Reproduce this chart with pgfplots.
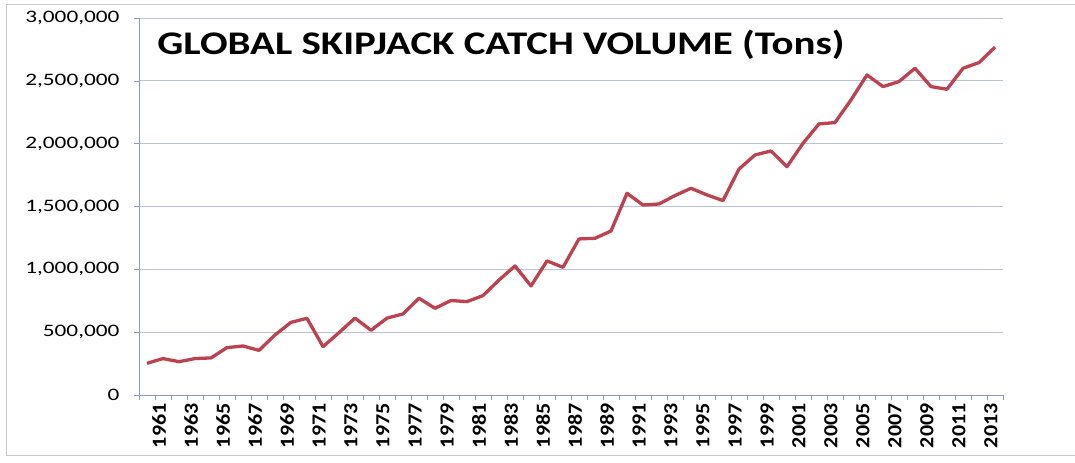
\documentclass[border=0pt]{standalone}
\usepackage{pgfplots}
\pgfplotsset{compat=1.18}
\usepackage{fontspec}
\setmainfont{Carlito}
\newfontfamily\ylabfont{Carlito}[FakeStretch=1.33]
\newfontfamily\xlabfont{Carlito}[FakeStretch=1.1]
\newfontfamily\titlefont{Carlito}[FakeStretch=1.24]
\definecolor{gridc}{RGB}{185,195,218}
\definecolor{axc}{RGB}{140,155,195}
\definecolor{linec}{RGB}{188,66,80}
\definecolor{framec}{RGB}{200,200,200}
\pgfplotstableread{
year value
1961 252000
1962 290000
1963 265000
1964 290000
1965 295000
1966 377000
1967 390000
1968 355000
1969 478000
1970 578000
1971 610000
1972 385000
1973 496000
1974 612000
1975 515000
1976 612000
1977 645000
1978 770000
1979 690000
1980 752000
1981 743000
1982 791000
1983 915000
1984 1027000
1985 868000
1986 1067000
1987 1016000
1988 1242000
1989 1247000
1990 1305000
1991 1605000
1992 1512000
1993 1520000
1994 1587000
1995 1645000
1996 1592000
1997 1547000
1998 1798000
1999 1910000
2000 1942000
2001 1817000
2002 2003000
2003 2157000
2004 2168000
2005 2348000
2006 2547000
2007 2454000
2008 2494000
2009 2600000
2010 2454000
2011 2433000
2012 2600000
2013 2645000
2014 2768000
}\catch
\begin{document}
\begin{tikzpicture}
\useasboundingbox (-139bp,-68bp) rectangle (936bp,395bp);
\draw[framec, line width=1bp] (936bp,-60bp) -- (-132bp,-60bp) -- (-132bp,390bp) -- (936bp,390bp);
\begin{axis}[
  at={(0,0)}, anchor=south west,
  scale only axis, width=864bp, height=377bp,
  xmin=1960.5, xmax=2014.5,
  ymin=0, ymax=3000000,
  axis x line*=bottom, axis y line*=left,
  axis line style={axc, line width=0.8bp, -},
  xtick={1961,1963,...,2013},
  minor xtick={1960.5,1961.5,...,2014.5},
  ytick={0,500000,...,3000000},
  major x tick style={draw=none},
  minor x tick style={axc, line width=0.6bp},
  y tick style={axc, line width=0.6bp},
  tick align=outside,
  major tick length=5bp, minor tick length=5bp,
  ymajorgrids, grid style={gridc, line width=0.8bp},
  scaled y ticks=false,
  /pgf/number format/assume math mode=true,
  yticklabel style={font=\ylabfont\fontsize{17.5bp}{20bp}\selectfont, text=black, /pgf/number format/fixed, /pgf/number format/1000 sep={,}, xshift=-11bp},
  xticklabel style={font=\xlabfont\bfseries\fontsize{20bp}{22bp}\selectfont, rotate=90, anchor=east, yshift=-12bp},
  xticklabel={\pgfmathprintnumber[1000 sep={}]{\tick}},
  clip=false,
]
\addplot[linec, line width=3.3bp, line join=round] table[x=year, y=value] {\catch};
\node[anchor=base west, font=\titlefont\bfseries\fontsize{33bp}{36bp}\selectfont, inner sep=0pt] at (rel axis cs:0.021,0.902) {GLOBAL SKIPJACK CATCH VOLUME (Tons)};
\end{axis}
\end{tikzpicture}
\end{document}
